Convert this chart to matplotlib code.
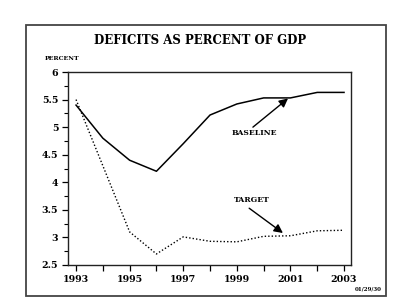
import matplotlib
matplotlib.use("Agg")
import matplotlib.pyplot as plt
from matplotlib.patches import Rectangle
from matplotlib.ticker import MultipleLocator

years = [1993, 1994, 1995, 1996, 1997, 1998, 1999, 2000, 2001, 2002, 2003]
baseline = [5.4, 4.8, 4.4, 4.2, 4.7, 5.22, 5.42, 5.53, 5.53, 5.63, 5.63]
target = [5.5, 4.3, 3.1, 2.7, 3.01, 2.93, 2.92, 3.02, 3.03, 3.12, 3.13]
year_labels = ["1993", "1995", "1997", "1999", "2001", "2003"]
y_labels = ["2.5", "3", "3.5", "4", "4.5", "5", "5.5", "6"]

serif = "DejaVu Serif"
fig = plt.figure(figsize=(4.0, 3.03), dpi=100)
fig.patch.set_facecolor("white")
fig.patches.append(Rectangle((26/400, 1-296/303), 360/400, 271/303, transform=fig.transFigure,
                             fill=False, edgecolor="#444444", linewidth=1.3))

ax = fig.add_axes([68/400, 1-265/303, 283/400, 193/303])
ax.plot(years, baseline, color="black", linewidth=1.1)
ax.plot(years, target, color="black", linewidth=1.0, linestyle=(0, (1, 1.5)))
ax.set_xlim(1992.7, 2003.26)
ax.set_ylim(2.5, 6)
ax.set_xticks(years)
ax.set_xticklabels([str(y) if str(y) in year_labels else "" for y in years],
                   fontfamily=serif, fontweight="bold", fontsize=6.8)
ax.set_yticks([float(v) for v in y_labels])
ax.set_yticklabels(y_labels, fontfamily=serif, fontweight="bold", fontsize=6.8)
ax.yaxis.set_minor_locator(MultipleLocator(0.25))
ax.tick_params(axis="both", which="major", length=4, width=0.9, pad=3)
ax.tick_params(axis="y", which="minor", length=3, width=0.8)
for s in ax.spines.values():
    s.set_linewidth(1.0)
    s.set_color("#222222")

fig.text(0.5, 1-40/303, "DEFICITS AS PERCENT OF GDP", ha="center", va="center",
         fontfamily=serif, fontweight="bold", fontsize=8.5)
fig.text(45/400, 1-59/303, "PERCENT", ha="left", va="center",
         fontfamily=serif, fontweight="bold", fontsize=4.5)
fig.text(382/400, 1-289/303, "01/29/30", ha="right", va="center",
         fontfamily=serif, fontweight="bold", fontsize=4)

ax.text(1999.64, 4.89, "BASELINE", ha="center", va="center",
        fontfamily=serif, fontweight="bold", fontsize=5.5)
ax.annotate("", xy=(2000.91, 5.52), xytext=(1999.6, 5.0),
            arrowprops=dict(arrowstyle="-|>", color="black", lw=1.0, mutation_scale=13,
                            shrinkA=0, shrinkB=0))
ax.text(1999.57, 3.68, "TARGET", ha="center", va="center",
        fontfamily=serif, fontweight="bold", fontsize=5.5)
ax.annotate("", xy=(2000.72, 3.08), xytext=(1999.46, 3.53),
            arrowprops=dict(arrowstyle="-|>", color="black", lw=1.0, mutation_scale=13,
                            shrinkA=0, shrinkB=0))

fig.savefig("out.png", dpi=100)
